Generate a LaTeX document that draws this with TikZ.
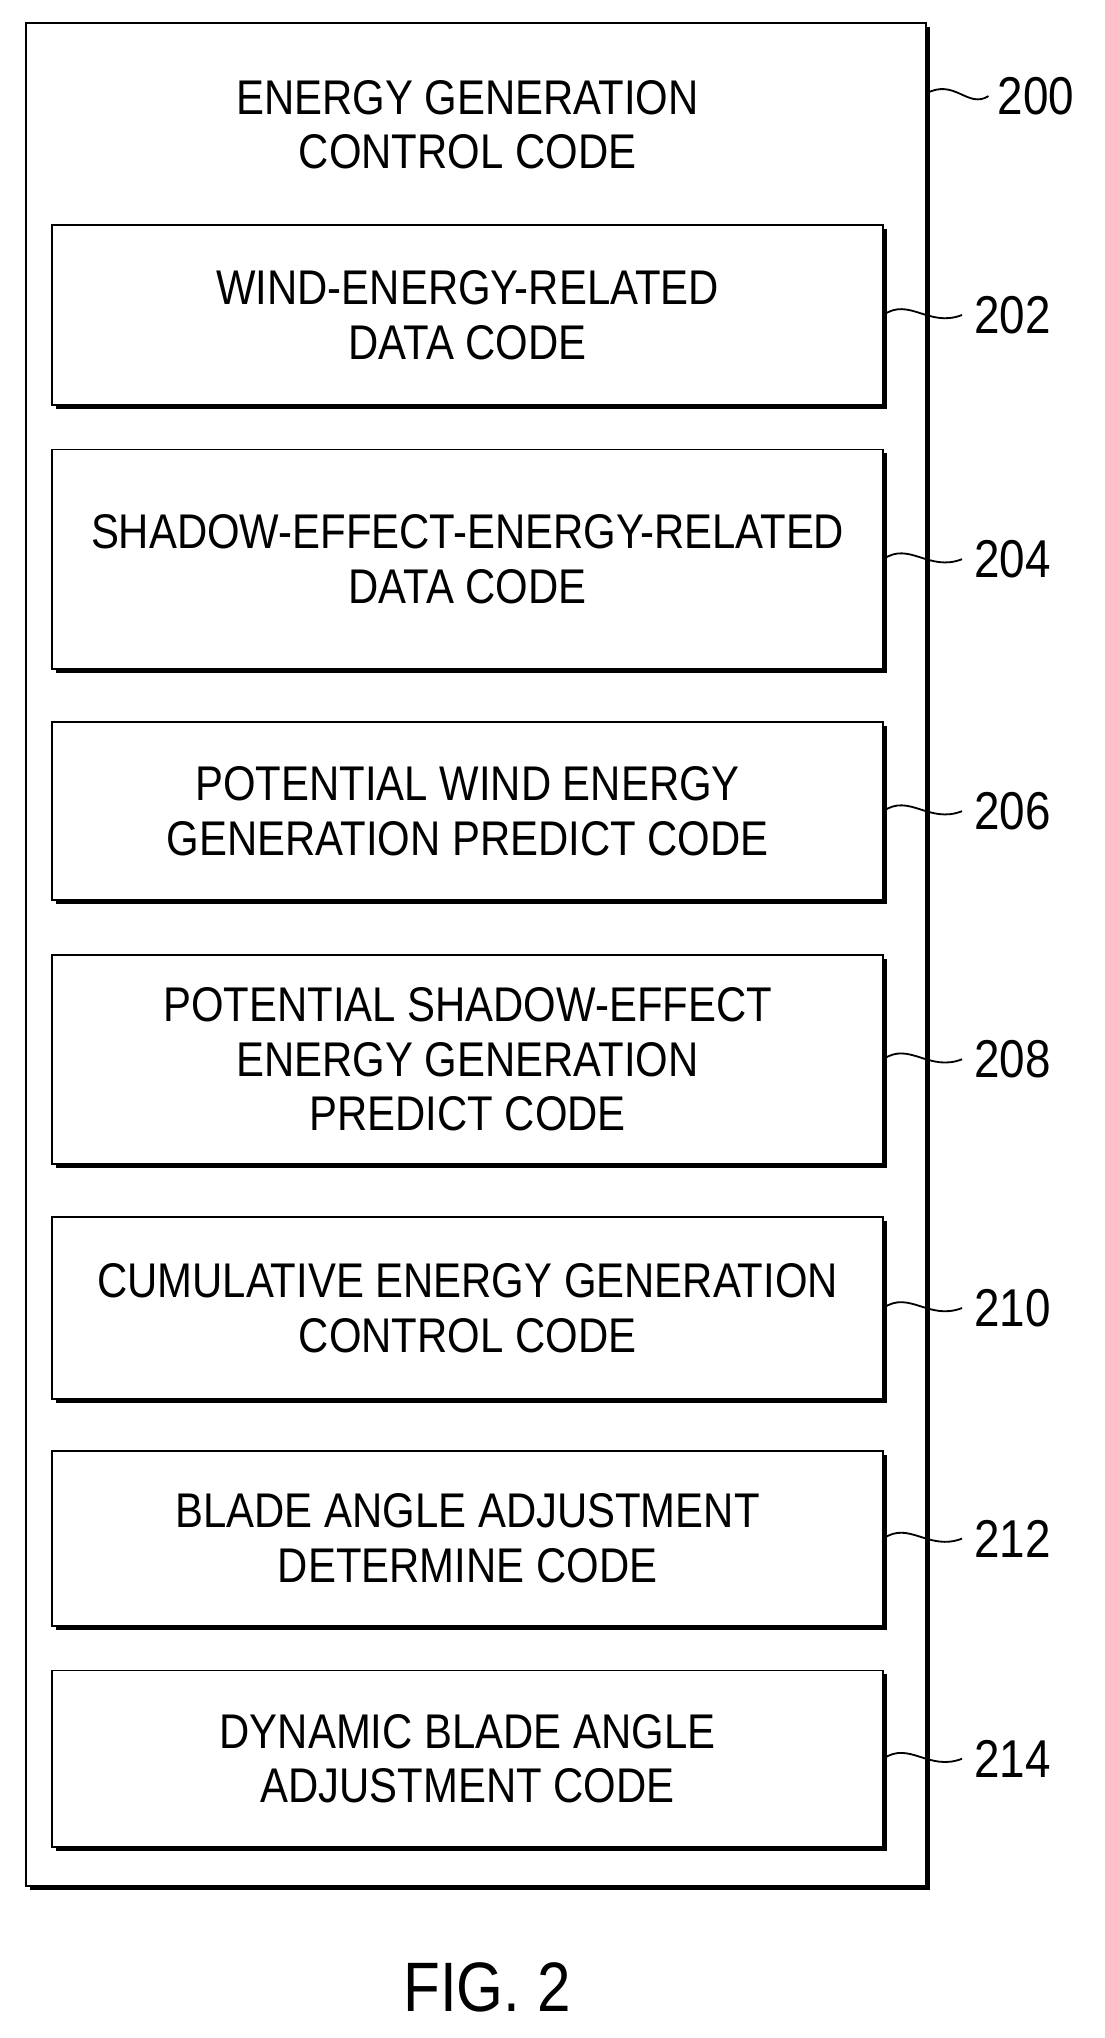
\documentclass[tikz,border=0pt]{standalone}
\usepackage{fontspec}
\setmainfont[FakeStretch=0.86]{Liberation Sans}
\begin{document}
\begin{tikzpicture}[x=0.03cm,y=-0.03cm,
  txt/.style={font=\fontsize{32}{36}\selectfont,align=center},
  lbl/.style={font=\fontsize{35}{40}\selectfont,anchor=west,inner sep=0pt},
  lead/.style={line width=1.2pt}]
\useasboundingbox (0,0) rectangle (850,1569);
\newcommand{\codebox}[5]{% name, top, bottom, text, label
  \fill (43,#2+3) rectangle (683,#3+3);
  \draw[line width=1.2pt,fill=white] (40,#2) rectangle (680,#3);
  \node[txt] (#1) at (360,{(#2+#3)/2}) {#4};
  \coordinate (#1e) at (680,{(#2+#3)/2});
  \node[lbl] (#1l) at (750,{(#2+#3)/2}) {#5};
  \draw[lead] (#1e) .. controls (700,{(#2+#3)/2-14}) and (715,{(#2+#3)/2+10}) .. ([xshift=-8]#1l.west);
}
\fill (23,21) rectangle (716,1455);
\draw[line width=1.2pt,fill=white] (20,18) rectangle (713,1452);
\node[txt] (title) at (360,96) {ENERGY GENERATION\\CONTROL CODE};
\coordinate (oe) at (713,72);
\node[lbl] (l200) at (768,74) {200};
\draw[lead] (oe) .. controls (735,60) and (745,84) .. ([xshift=-6]l200.west);
\codebox{b1}{173}{312}{WIND-ENERGY-RELATED\\DATA CODE}{202}
\codebox{b2}{346}{515}{SHADOW-EFFECT-ENERGY-RELATED\\DATA CODE}{204}
\codebox{b3}{556}{693}{POTENTIAL WIND ENERGY\\GENERATION PREDICT CODE}{206}
\codebox{b4}{735}{896}{POTENTIAL SHADOW-EFFECT\\ENERGY GENERATION\\PREDICT CODE}{208}
\codebox{b5}{937}{1077}{CUMULATIVE ENERGY GENERATION\\CONTROL CODE}{210}
\codebox{b6}{1117}{1252}{BLADE ANGLE ADJUSTMENT\\DETERMINE CODE}{212}
\codebox{b7}{1286}{1422}{DYNAMIC BLADE ANGLE\\ADJUSTMENT CODE}{214}
\node[font=\fontsize{46}{50}\selectfont] (fig) at (375,1530) {FIG. 2};
\end{tikzpicture}
\end{document}
